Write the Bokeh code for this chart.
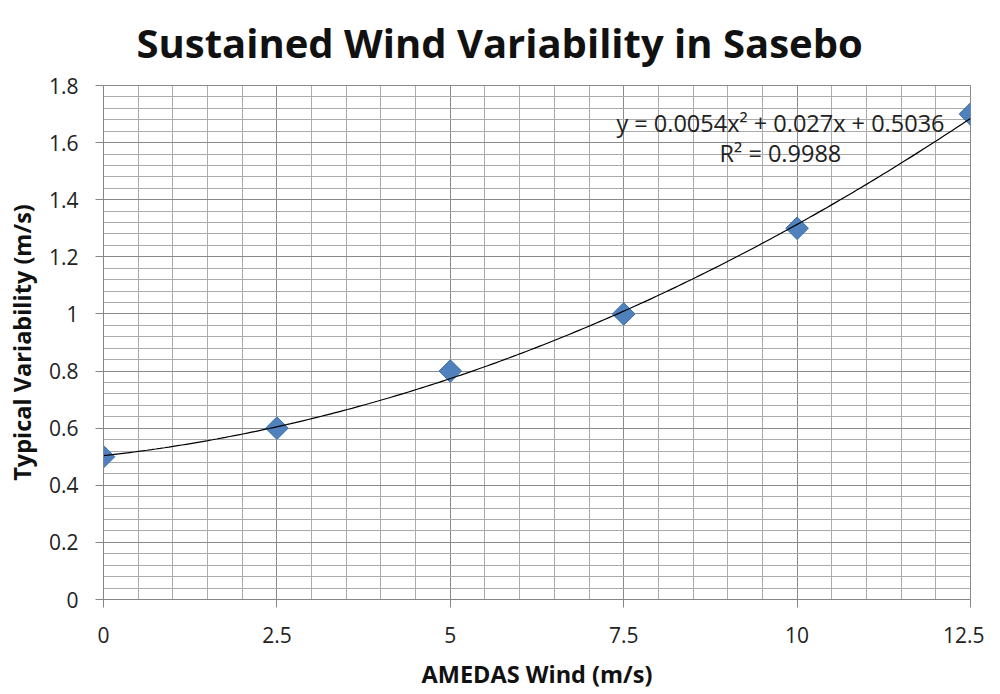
import numpy as np
from bokeh.plotting import figure
from bokeh.models import FixedTicker, Label, Range1d
from bokeh.embed import file_html
from bokeh.resources import INLINE

# ---- data ----
wind = [0, 2.5, 5, 7.5, 10, 12.5]
variability = [0.5, 0.6, 0.8, 1.0, 1.3, 1.7]
trend_coef = [0.0054, 0.027, 0.5036]   # y = a x^2 + b x + c (shown on chart)
r_squared = "0.9988"

x_ticks = [0, 2.5, 5, 7.5, 10, 12.5]
x_tick_labels = ["0", "2.5", "5", "7.5", "10", "12.5"]
y_ticks = [0, 0.2, 0.4, 0.6, 0.8, 1.0, 1.2, 1.4, 1.6, 1.8]
y_tick_labels = ["0", "0.2", "0.4", "0.6", "0.8", "1", "1.2", "1.4", "1.6", "1.8"]
x_minor = [round(i * 0.5, 2) for i in range(26)]
y_minor = [round(i * 0.04, 2) for i in range(46)]

TITLE = "Sustained Wind Variability in Sasebo"
FONT = "Open Sans"
GRID_MAJOR = "#8a8a8a"
GRID_MINOR = "#ababab"

W, H = 984, 692
BL, BR, BT, BB = 103, 14, 85, 92

p = figure(width=W, height=H,
           x_range=Range1d(0, 12.5), y_range=Range1d(0, 1.8),
           output_backend="svg", toolbar_location=None,
           min_border_left=BL, min_border_right=BR,
           min_border_top=BT, min_border_bottom=BB)

p.title.text = TITLE
p.title.align = "left"
p.title.offset = 33
p.title.vertical_align = "top"
p.title.standoff = 28
p.title.text_font = FONT
p.title.text_font_style = "bold"
p.title.text_font_size = "40px"
p.title.text_color = "#111111"

p.outline_line_color = GRID_MAJOR
p.background_fill_color = "white"
p.border_fill_color = "white"

xt = FixedTicker(ticks=x_ticks, minor_ticks=x_minor)
yt = FixedTicker(ticks=y_ticks, minor_ticks=y_minor)
p.xaxis.ticker = xt
p.yaxis.ticker = yt
p.xgrid.ticker = xt
p.ygrid.ticker = yt
p.xaxis.major_label_overrides = dict(zip(x_ticks, x_tick_labels))
p.yaxis.major_label_overrides = dict(zip(y_ticks, y_tick_labels))

for g in (p.xgrid, p.ygrid):
    g.grid_line_color = GRID_MAJOR
    g.grid_line_width = 1
    g.minor_grid_line_color = GRID_MINOR
    g.minor_grid_line_width = 1

for ax in (p.xaxis, p.yaxis):
    ax.axis_line_color = "#868686"
    ax.major_tick_line_color = "#868686"
    ax.major_tick_out = 8
    ax.major_tick_in = 0
    ax.minor_tick_out = 0
    ax.minor_tick_in = 0
    ax.major_label_text_font = FONT
    ax.major_label_text_font_size = "21px"
    ax.major_label_text_color = "#222222"
    ax.axis_label_text_font = FONT
    ax.axis_label_text_font_style = "bold"
    ax.axis_label_text_font_size = "23.5px"
    ax.axis_label_text_color = "#111111"

p.xaxis.axis_label = "AMEDAS Wind (m/s)"
p.yaxis.axis_label = "Typical Variability (m/s)"
p.xaxis.major_label_standoff = 19
p.yaxis.major_label_standoff = 17
p.xaxis.axis_label_standoff = 12
p.yaxis.axis_label_standoff = 8

p.scatter(wind, variability, marker="square", angle=np.pi / 4, size=16,
          fill_color="#4F81BD", line_color="#3D6DA8", line_width=1)

xs = np.linspace(min(wind), max(wind), 200)
ys = np.polyval(trend_coef, xs)
p.line(xs, ys, line_color="black", line_width=1.2)

eq_text = f"y = {trend_coef[0]}x\u00b2 + {trend_coef[1]}x + {trend_coef[2]}"
p.add_layout(Label(x=9.76, y=1.668, text=eq_text, text_align="center",
                   text_baseline="alphabetic", text_font=FONT,
                   text_font_size="23.5px", text_color="#222222"))
p.add_layout(Label(x=9.76, y=1.563, text=f"R\u00b2 = {r_squared}", text_align="center",
                   text_baseline="alphabetic", text_font=FONT,
                   text_font_size="23.5px", text_color="#222222"))

open("out.html", "w").write(file_html(p, INLINE))
